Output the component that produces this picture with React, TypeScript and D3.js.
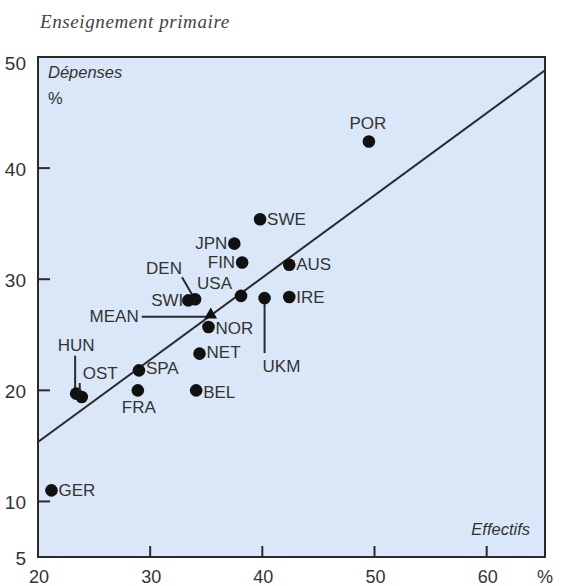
import React from "react";
import * as d3 from "d3";

// ---- data ----
const countries = ["POR","SWE","JPN","FIN","AUS","USA","UKM","IRE","SWI","DEN","NOR","NET","SPA","FRA","BEL","HUN","OST","GER"];
const effectifs = [49.5,39.8,37.5,38.2,42.4,38.1,40.2,42.4,33.4,34.0,35.2,34.4,29.0,28.9,34.1,23.4,23.9,21.2];
const depenses = [42.4,35.4,33.2,31.5,31.3,28.5,28.3,28.4,28.1,28.2,25.7,23.3,21.8,20.0,20.0,19.7,19.4,11.0];
const meanPoint = { label: "MEAN", x: 35.4, y: 26.8 };
const fitX = [20, 65.2];
const fitY = [15.35, 48.8];
const xTickLabels = [20, 30, 40, 50, 60];
const xTickMarks = [30, 40, 50, 60];
const yTickLabels = [5, 10, 20, 30, 40, 50];
const yTickMarks = [10, 20, 30, 40];
const title = "Enseignement primaire";
const yTitle = "Dépenses";
const xTitle = "Effectifs";

// ---- layout (label offsets, px) ----
type Lay = { dx: number; dy: number; anchor: "start" | "middle" | "end"; lead?: [number, number, number, number] };
const layout: Record<string, Lay> = {
  POR: { dx: -1, dy: -18, anchor: "middle" },
  SWE: { dx: 7, dy: 0, anchor: "start" },
  JPN: { dx: -7, dy: 0, anchor: "end" },
  FIN: { dx: -7, dy: 0, anchor: "end" },
  AUS: { dx: 7, dy: 0, anchor: "start" },
  USA: { dx: -9, dy: -12, anchor: "end" },
  UKM: { dx: -2, dy: 68, anchor: "start", lead: [0, 6, 0, 55] },
  IRE: { dx: 7, dy: 0, anchor: "start" },
  SWI: { dx: -5, dy: 0, anchor: "end" },
  DEN: { dx: -31, dy: -31, anchor: "middle", lead: [-13, -22, -2, -3] },
  NOR: { dx: 7, dy: 1, anchor: "start" },
  NET: { dx: 7, dy: -1, anchor: "start" },
  SPA: { dx: 7, dy: -2, anchor: "start" },
  FRA: { dx: 1, dy: 17, anchor: "middle" },
  BEL: { dx: 7, dy: 2, anchor: "start" },
  HUN: { dx: 0, dy: -48, anchor: "middle", lead: [-1, -38, -1, -2] },
  OST: { dx: 1, dy: -24, anchor: "start", lead: [-2, -14, -2, -5] },
  GER: { dx: 7, dy: 0, anchor: "start" },
};

const W = 581, H = 586;
const L = 38, R = 545, T = 57, B = 557;

export default function App() {
  const x = d3.scaleLinear().domain([20, 65.2]).range([L, R]);
  const y = d3.scaleLinear().domain([5, 50]).range([B, T]);
  const line = d3.line<[number, number]>().x(d => x(d[0])).y(d => y(d[1]));
  const fitPts: [number, number][] = fitX.map((v, i) => [v, fitY[i]]);
  const tri = d3.symbol().type(d3.symbolTriangle).size(70)();
  const sans = "'Liberation Sans', Arial, sans-serif";
  const txt = "#333";
  const dark = "#2a2a2a";
  const mx = x(meanPoint.x), my = y(meanPoint.y);

  return (
    <svg width={W} height={H} style={{ position: "absolute", left: 0, top: 0 }} fontFamily={sans}>
      <rect x={0} y={0} width={W} height={H} fill="#fff" />
      <text x={40} y={28} fontFamily="'Liberation Serif', 'Times New Roman', serif" fontStyle="italic" fontSize={19} letterSpacing={0.6} fill="#444">{title}</text>
      <defs>
        <clipPath id="plot"><rect x={L} y={T} width={R - L} height={B - T} /></clipPath>
      </defs>
      <rect x={L} y={T} width={R - L} height={B - T} fill="#dae7f8" />
      {/* ticks */}
      {xTickMarks.map(v => (
        <line key={"xt" + v} x1={x(v)} x2={x(v)} y1={B} y2={B - 11} stroke={dark} strokeWidth={2} />
      ))}
      {yTickMarks.map(v => (
        <line key={"yt" + v} x1={L} x2={L + 12} y1={y(v)} y2={y(v)} stroke={dark} strokeWidth={2} />
      ))}
      {/* fit line */}
      <path d={line(fitPts) || ""} fill="none" stroke={dark} strokeWidth={2} clipPath="url(#plot)" />
      {/* frame */}
      <rect x={L} y={T} width={R - L} height={B - T} fill="none" stroke={dark} strokeWidth={2} />
      {/* tick labels */}
      {xTickLabels.map(v => (
        <text key={"xl" + v} x={x(v) + 1} y={577} textAnchor="middle" dominantBaseline="central" fontSize={18} fill={txt}>{v}</text>
      ))}
      <text x={545} y={577} textAnchor="middle" dominantBaseline="central" fontSize={18} fill={txt}>%</text>
      {yTickLabels.map(v => (
        <text key={"yl" + v} x={26} y={Math.max(y(v) + 1, 63)} textAnchor="end" dominantBaseline="central" fontSize={19} fill={txt}>{v}</text>
      ))}
      <text x={48} y={72} dominantBaseline="central" fontStyle="italic" fontSize={16.5} fill={txt}>{yTitle}</text>
      <text x={48} y={98} dominantBaseline="central" fontSize={16.5} fill={txt}>%</text>
      <text x={530} y={529} textAnchor="end" dominantBaseline="central" fontStyle="italic" fontSize={16.5} fill={txt}>{xTitle}</text>
      {/* mean */}
      <line x1={mx - 69} x2={mx} y1={my + 2} y2={my + 2} stroke={dark} strokeWidth={2} />
      <path d={tri || ""} transform={`translate(${mx},${my})`} fill="#111" />
      <text x={mx - 72} y={my + 2} textAnchor="end" dominantBaseline="central" fontSize={17} fill={txt}>{meanPoint.label}</text>
      {/* points */}
      {countries.map((c, i) => {
        const cx = x(effectifs[i]), cy = y(depenses[i]);
        const l = layout[c];
        return (
          <g key={c}>
            {l.lead && (
              <line x1={cx + l.lead[0]} y1={cy + l.lead[1]} x2={cx + l.lead[2]} y2={cy + l.lead[3]} stroke={dark} strokeWidth={2} />
            )}
            <circle cx={cx} cy={cy} r={6.3} fill="#111" />
            <text x={cx + l.dx} y={cy + l.dy} textAnchor={l.anchor} dominantBaseline="central" fontSize={17} fill={txt}>{c}</text>
          </g>
        );
      })}
    </svg>
  );
}
